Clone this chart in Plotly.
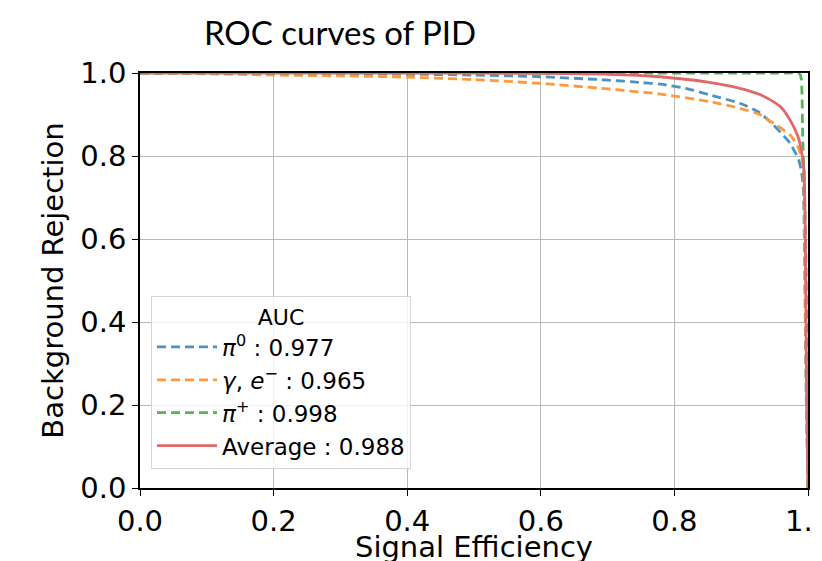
import plotly.graph_objects as go

# ---- data ----
pi0_eff = [0, 0.2, 0.4, 0.5, 0.6, 0.7, 0.75, 0.78, 0.82, 0.853, 0.898, 0.928, 0.948, 0.96, 0.973, 0.985, 0.99, 0.993, 0.995, 0.997, 1.0]
pi0_rej = [1.0, 0.999, 0.997, 0.995, 0.991, 0.983, 0.977, 0.973, 0.962, 0.947, 0.927, 0.904, 0.875, 0.855, 0.831, 0.795, 0.766, 0.72, 0.55, 0.25, 0.0]

gam_eff = [0, 0.1, 0.2, 0.3, 0.4, 0.5, 0.6, 0.69, 0.78, 0.853, 0.898, 0.928, 0.948, 0.973, 0.985, 0.99, 0.993, 0.995, 0.997, 1.0]
gam_rej = [1.0, 0.998, 0.995, 0.993, 0.99, 0.984, 0.975, 0.963, 0.949, 0.931, 0.915, 0.9, 0.879, 0.851, 0.822, 0.798, 0.77, 0.6, 0.3, 0.0]

pip_eff = [0, 0.5, 0.9, 0.97, 0.985, 0.988, 0.99, 0.991, 0.992, 0.993, 0.995, 0.997, 0.999, 1.0]
pip_rej = [1.0, 1.0, 1.0, 1.0, 1.0, 0.997, 0.985, 0.95, 0.85, 0.8, 0.7, 0.55, 0.2, 0.0]

avg_eff = [0, 0.4, 0.6, 0.7, 0.778, 0.85, 0.898, 0.928, 0.948, 0.96, 0.973, 0.985, 0.99, 0.994, 0.996, 0.998, 1.0]
avg_rej = [1.0, 1.0, 0.999, 0.997, 0.991, 0.978, 0.963, 0.948, 0.931, 0.917, 0.887, 0.847, 0.814, 0.766, 0.6, 0.2, 0.0]

names = ["<i>π</i><sup>0</sup> : 0.977",
         "<i>γ</i>, <i>e</i><sup>−</sup> : 0.965",
         "<i>π</i><sup>+</sup> : 0.998",
         "Average : 0.988"]
tick_vals = [0, 0.2, 0.4, 0.6, 0.8, 1.0]
tick_text = ["0.0", "0.2", "0.4", "0.6", "0.8", "1.0"]

colors = ["rgb(76,146,195)", "rgb(255,153,62)", "rgb(86,179,86)", "rgb(225,104,105)"]

fig = go.Figure()
series = [(pi0_eff, pi0_rej), (gam_eff, gam_rej), (pip_eff, pip_rej), (avg_eff, avg_rej)]
for i, (x, y) in enumerate(series):
    dash = "9px,5px" if i < 3 else "solid"
    fig.add_trace(go.Scatter(x=x, y=y, mode="lines", name=names[i],
                             line=dict(color=colors[i], width=2.8, dash=dash,
                                       shape="spline", smoothing=0.6)))

axis_common = dict(range=[0, 1], tickvals=tick_vals, ticktext=tick_text,
                   showgrid=True, gridcolor="#b8b8b8", gridwidth=1,
                   showline=True, linecolor="black", linewidth=1.5, mirror=True,
                   ticks="outside", ticklen=6, tickwidth=1.2, tickcolor="black",
                   tickfont=dict(family="DejaVu Sans", size=29, color="black"),
                   zeroline=False, automargin=False, ticklabeloverflow="allow")

# page has an 8px body margin, so the figure is 814x553
W, H = 814, 553
fig.update_layout(
    width=W, height=H,
    margin=dict(l=132, r=14, t=65, b=73, autoexpand=False),
    plot_bgcolor="white", paper_bgcolor="white",
    title=dict(text="ROC curves of PID", x=332 / W, xanchor="center",
               y=1 - 25 / H, yanchor="middle", automargin=False,
               font=dict(family="Lato", size=33, color="black")),
    xaxis=dict(**axis_common),
    yaxis=dict(**axis_common,
               title=dict(text="Background Rejection", standoff=8,
                          font=dict(family="DejaVu Sans", size=29, color="black"))),
    annotations=[dict(text="Signal Efficiency", xref="paper", yref="paper",
                      x=0.5, y=-(539 - 480) / 415, xanchor="center", yanchor="middle",
                      showarrow=False,
                      font=dict(family="DejaVu Sans", size=29, color="black"))],
    legend=dict(x=0.0165, y=0.463, xanchor="left", yanchor="top",
                bgcolor="rgba(255,255,255,0.8)", bordercolor="#d5d5d5", borderwidth=1,
                font=dict(family="DejaVu Sans", size=23, color="black"),
                title=dict(text="AUC", side="top center",
                           font=dict(family="DejaVu Sans", size=22, color="black")),
                itemwidth=60),
    showlegend=True,
)

fig.write_html("out.html")
